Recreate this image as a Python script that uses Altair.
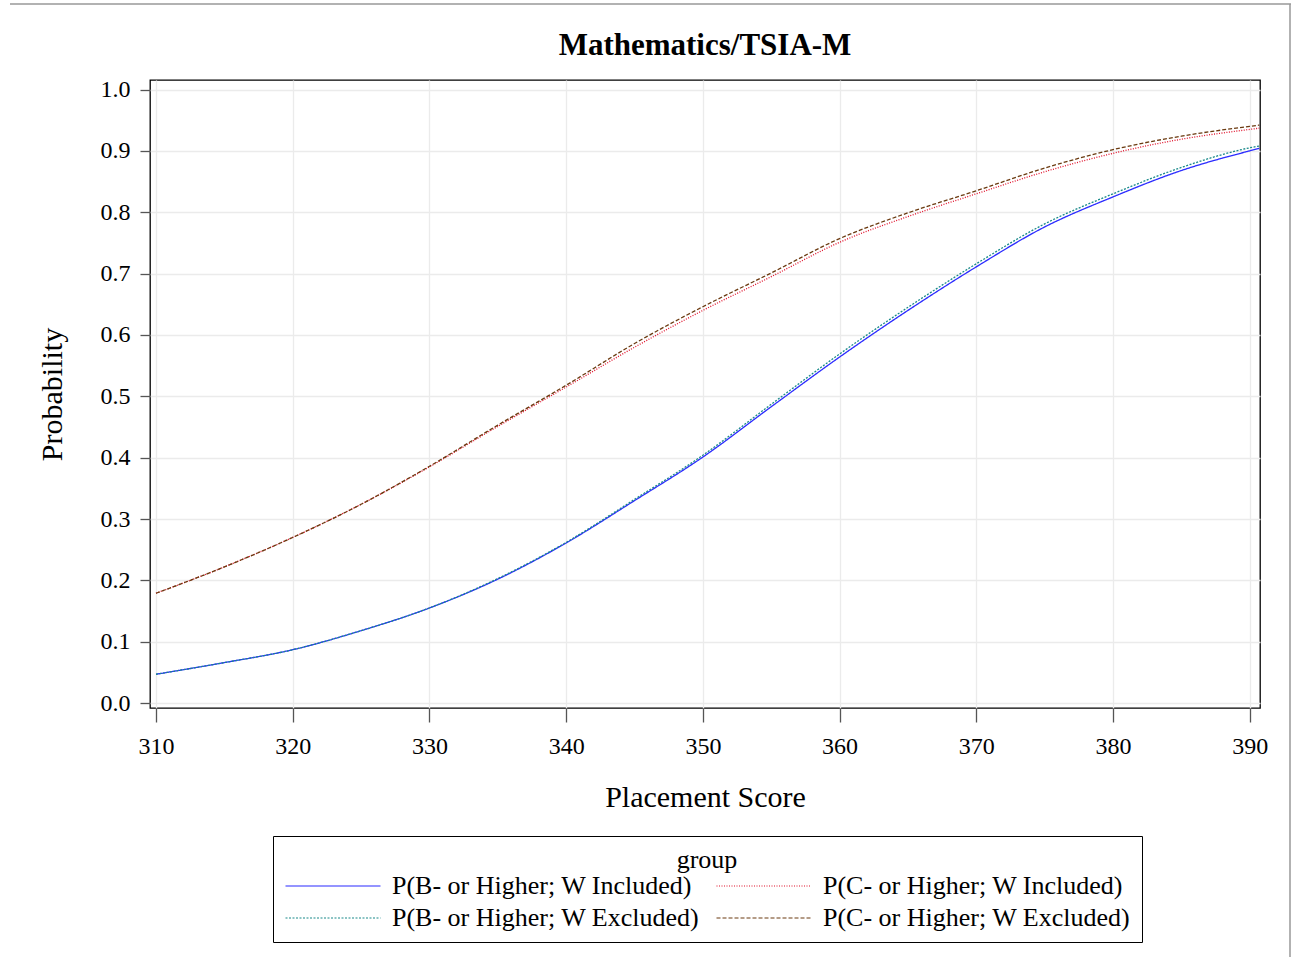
import altair as alt
import pandas as pd

# Placement score grid (x) and predicted probabilities for each group
scores = [310, 315, 320, 325, 330, 335, 340, 345, 350, 355, 360, 365, 370, 375, 380, 385, 390, 390.7]

b_incl = [0.047, 0.066, 0.087, 0.118, 0.155, 0.202, 0.261, 0.330, 0.401, 0.483, 0.564,
          0.640, 0.711, 0.776, 0.825, 0.868, 0.900, 0.904]
b_excl = [0.047, 0.066, 0.087, 0.118, 0.155, 0.203, 0.262, 0.332, 0.404, 0.487, 0.569,
          0.645, 0.716, 0.781, 0.830, 0.873, 0.905, 0.908]
c_incl = [0.179, 0.222, 0.270, 0.324, 0.385, 0.451, 0.515, 0.580, 0.640, 0.695, 0.751,
          0.793, 0.830, 0.866, 0.896, 0.919, 0.935, 0.937]
c_excl = [0.179, 0.222, 0.270, 0.324, 0.386, 0.453, 0.518, 0.586, 0.646, 0.701, 0.757,
          0.799, 0.835, 0.872, 0.902, 0.924, 0.940, 0.942]

# Legend order: first column holds the B- curves, second column the C- curves
groups = [
    "P(B- or Higher; W Included)",
    "P(B- or Higher; W Excluded)",
    "P(C- or Higher; W Included)",
    "P(C- or Higher; W Excluded)",
]
colors = ["#2b2bff", "#1a8a8a", "#e0102a", "#6b3a10"]
dashes = [[1, 0], [2, 1.5], [1, 1.5], [4, 2]]

series = {groups[0]: b_incl, groups[1]: b_excl, groups[2]: c_incl, groups[3]: c_excl}
rows = []
for g, vals in series.items():
    for s, p in zip(scores, vals):
        rows.append({"score": s, "prob": p, "group": g})
df = pd.DataFrame(rows)

FONT = "Liberation Serif"
TITLE = "Mathematics/TSIA-M"

lines = alt.Chart(df).mark_line(strokeWidth=1.3, interpolate="monotone").encode(
    x=alt.X(
        "score:Q",
        scale=alt.Scale(domain=[309.56, 390.75], nice=False, zero=False),
        axis=alt.Axis(
            title="Placement Score",
            values=[310, 320, 330, 340, 350, 360, 370, 380, 390],
            format="d",
            tickSize=14,
            labelPadding=12,
            titlePadding=24,
        ),
    ),
    y=alt.Y(
        "prob:Q",
        scale=alt.Scale(domain=[-0.008, 1.0155], nice=False, zero=False),
        axis=alt.Axis(
            title="Probability",
            values=[0, 0.1, 0.2, 0.3, 0.4, 0.5, 0.6, 0.7, 0.8, 0.9, 1.0],
            format=".1f",
            tickSize=10,
            labelPadding=10,
            titlePadding=33,
        ),
    ),
    color=alt.Color(
        "group:N",
        scale=alt.Scale(domain=groups, range=colors),
        legend=alt.Legend(
            title="group",
            orient="none",
            legendX=123,
            legendY=756,
            columns=2,
            columnPadding=14,
            rowPadding=6,
            symbolType="M-4,0H4",
            symbolSize=564,
            symbolOffset=36,
            symbolStrokeWidth=1.2,
            symbolFillColor="transparent",
            labelFont=FONT,
            labelFontSize=26,
            labelColor="black",
            labelOffset=46,
            labelLimit=500,
            titleFont=FONT,
            titleFontSize=26,
            titleFontWeight="normal",
            titleColor="black",
            titleAnchor="middle",
            titleAlign="center",
            titlePadding=0,
            padding=11,
            strokeColor="black",
            fillColor="white",
        ),
    ),
    strokeDash=alt.StrokeDash(
        "group:N",
        scale=alt.Scale(domain=groups, range=dashes),
        legend=None,
    ),
)

# Chart heading drawn as a text mark centred over the plot area
heading = alt.Chart(pd.DataFrame({"k": [0]})).mark_text(
    text=TITLE, font=FONT, fontSize=31, fontWeight="bold", color="black",
    align="center", baseline="alphabetic",
).encode(x=alt.value(555), y=alt.value(-25))

# Page border lines at the top and right edge
border = alt.Chart(pd.DataFrame({"k": [0]})).mark_rule(color="#999999", strokeWidth=1.5).encode(
    x=alt.value(-140), x2=alt.value(1141), y=alt.value(-76)
)
border_r = alt.Chart(pd.DataFrame({"k": [0]})).mark_rule(color="#999999", strokeWidth=1.5).encode(
    x=alt.value(1140), y=alt.value(-76), y2=alt.value(880)
)

chart = alt.layer(lines, heading, border, border_r).properties(
    width=1110,
    height=628,
    autosize=alt.AutoSizeParams(type="none"),
    padding={"left": 150, "top": 80, "right": 31, "bottom": 249},
).configure(
    background="white"
).configure_view(
    stroke="black", strokeWidth=1.3
).configure_axis(
    labelFont=FONT,
    labelFontSize=24,
    labelColor="black",
    titleFont=FONT,
    titleFontSize=30,
    titleFontWeight="normal",
    titleColor="black",
    grid=True,
    gridColor="#ebebeb",
    gridWidth=1.3,
    domain=False,
    tickColor="#555555",
    tickWidth=1.3,
)

chart.save("out.html", embed_options={"renderer": "svg", "actions": False})
